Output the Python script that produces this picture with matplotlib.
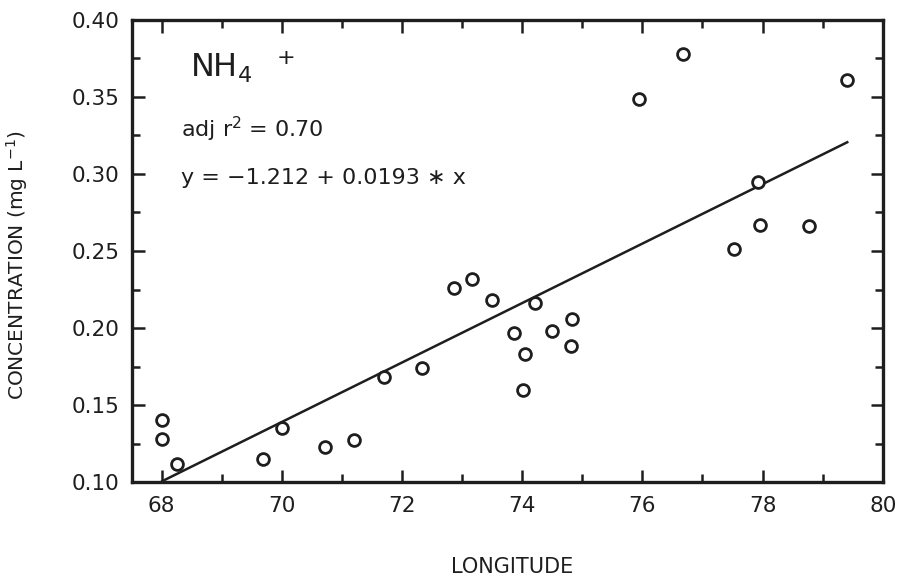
#scatter of NH4+ concentration vs longitude with the linear fit

#import necessary
from matplotlib import pyplot as plt
import numpy as np

#station longitudes and NH4+ concentrations (mg/L)
longitude = [68.01, 68.01, 68.26, 69.68, 70.01, 70.72, 71.20, 71.70, 72.34,
             72.86, 73.17, 73.49, 73.86, 74.02, 74.04, 74.22, 74.50, 74.81,
             74.83, 75.95, 76.68, 77.53, 77.93, 77.95, 78.77, 79.41]
nh4 = [0.140, 0.128, 0.112, 0.115, 0.135, 0.123, 0.127, 0.168, 0.174,
       0.226, 0.232, 0.218, 0.197, 0.160, 0.183, 0.216, 0.198, 0.188,
       0.206, 0.349, 0.378, 0.251, 0.295, 0.267, 0.266, 0.361]

#regression coefficients
intercept = -1.212
slope = 0.0193
adj_r2 = 0.70

xticks = [68, 70, 72, 74, 76, 78, 80]
yticks = [0.10, 0.15, 0.20, 0.25, 0.30, 0.35, 0.40]

ink = '#1e1e1e'
plt.rcParams['font.family'] = ['DejaVu Sans']
plt.rcParams['mathtext.fontset'] = 'dejavusans'

fig = plt.figure(figsize=(9.02, 5.79), dpi=100)
ax = fig.add_axes([0.146, 0.1675, 0.8326, 0.798])

ax.plot(longitude, nh4, 'o', mfc='white', mec=ink, ms=8.5, mew=2.0, zorder=3)
xfit = np.array([min(longitude), max(longitude)])
ax.plot(xfit, intercept + slope*xfit, color=ink, lw=1.8, zorder=2)

ax.set_xlim(67.5, 80.0)
ax.set_ylim(0.10, 0.40)
ax.set_xticks(xticks)
ax.set_xticks(np.arange(69, 80, 2), minor=True)
ax.set_yticks(yticks)
ax.set_yticks(np.arange(0.125, 0.40, 0.05), minor=True)
ax.set_yticklabels(['%.2f' % v for v in yticks])

ax.tick_params(which='both', direction='in', top=True, right=True,
               color=ink, width=1.8, labelsize=15.5, labelcolor=ink)
ax.tick_params(which='major', length=9)
ax.tick_params(which='minor', length=6)
ax.tick_params(axis='y', pad=9)
ax.tick_params(axis='x', pad=10)
for s in ax.spines.values():
    s.set_linewidth(2.4)
    s.set_color(ink)

ax.set_ylabel('CONCENTRATION (mg L$^{-1}$)', fontsize=14.5, color=ink)
ax.yaxis.set_label_coords(-0.135, 0.47)
ax.set_xlabel('LONGITUDE', fontsize=15, color=ink)
ax.xaxis.set_label_coords(0.506, -0.162)

#annotations
ax.text(0.078, 0.877, r'NH$_4\ \;^+$', transform=ax.transAxes, fontsize=23,
        color=ink, va='baseline')
ax.text(0.066, 0.747, 'adj r$^2$ = %.2f' % adj_r2, transform=ax.transAxes,
        fontsize=16, color=ink, va='baseline')
ax.text(0.066, 0.645, 'y = \u22121.212 + 0.0193 \u2217 x', transform=ax.transAxes,
        fontsize=16, color=ink, va='baseline')

fig.savefig('out.png', dpi=100)
